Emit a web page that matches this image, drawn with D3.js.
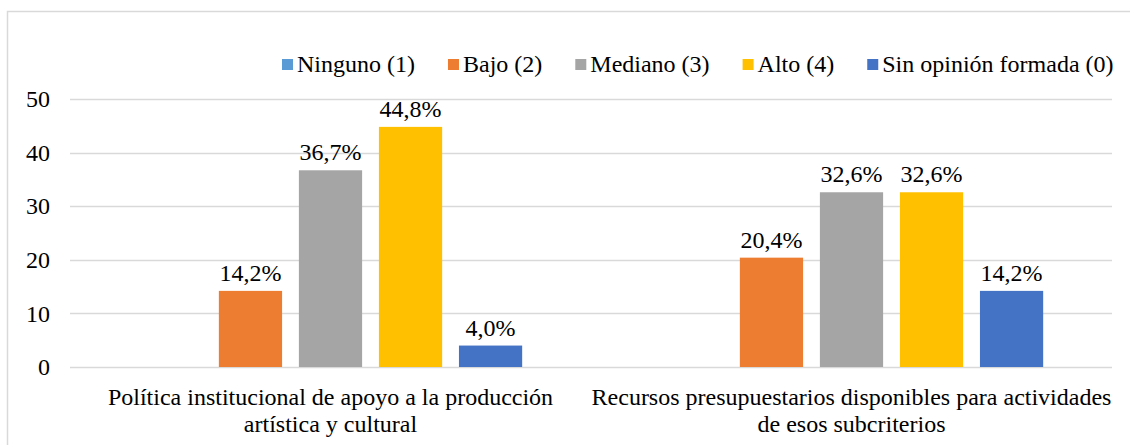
<!DOCTYPE html>
<html>
<head>
<meta charset="utf-8">
<script src="https://cdn.jsdelivr.net/npm/d3@7"></script>
<style>
  body { margin: 0; background: #fff; }
  svg { display: block; }
</style>
</head>
<body>
<div id="chart"></div>
<script>
"use strict";

// categories (line breaks as in the original axis labels)
const categories = [
    "Política institucional de apoyo a la producción\nartística y cultural",
    "Recursos presupuestarios disponibles para actividades\nde esos subcriterios"
];

// series names and colours
const seriesNames = ["Ninguno (1)", "Bajo (2)", "Mediano (3)", "Alto (4)", "Sin opinión formada (0)"];
const seriesColors = ["#5B9BD5", "#ED7D31", "#A5A5A5", "#FFC000", "#4472C4"];

// values per series, one per category
const ninguno = [0, 0];
const bajo = [14.2, 20.4];
const mediano = [36.7, 32.6];
const alto = [44.8, 32.6];
const sinOpinion = [4.0, 14.2];

// y axis ticks
const yTicks = [0, 10, 20, 30, 40, 50];

const seriesValues = [ninguno, bajo, mediano, alto, sinOpinion];

const FONT = "Liberation Serif";
const FS = 24;

const width = 1130, height = 445;
const margin = { top: 99, right: 18, bottom: 78, left: 70 };
const plotW = width - margin.left - margin.right;
const plotH = height - margin.top - margin.bottom;

const svg = d3.select("#chart").append("svg")
    .attr("width", width)
    .attr("height", height);

// chart border
svg.append("rect")
    .attr("x", 7.5).attr("y", 11.5)
    .attr("width", width + 20).attr("height", height + 20)
    .attr("fill", "none")
    .attr("stroke", "#d9d9d9")
    .attr("stroke-width", 1.5);

const g = svg.append("g")
    .attr("transform", "translate(" + margin.left + "," + margin.top + ")");

// scales
const x0 = d3.scaleBand()
    .domain(d3.range(categories.length))
    .range([0, plotW])
    .padding(0);

const x1 = d3.scaleBand()
    .domain(d3.range(seriesNames.length))
    .range([0, x0.bandwidth()])
    .paddingInner(0.21)
    .paddingOuter(0.86);

const y = d3.scaleLinear()
    .domain([0, 50])
    .range([plotH, 0]);

// gridlines
g.append("g")
    .selectAll("line")
    .data(yTicks)
    .enter()
    .append("line")
    .attr("x1", 0)
    .attr("x2", plotW)
    .attr("y1", d => Math.round(y(d)) + 0.5)
    .attr("y2", d => Math.round(y(d)) + 0.5)
    .attr("stroke", "#d9d9d9")
    .attr("stroke-width", 1.5);

// y axis labels
const yAxis = g.append("g")
    .call(d3.axisLeft(y).tickValues(yTicks).tickSize(0).tickPadding(20));
yAxis.select(".domain").remove();
yAxis.selectAll("text")
    .style("font-family", FONT)
    .style("font-size", FS + "px")
    .attr("fill", "#000");

// bars
const rows = [];
categories.forEach((c, ci) => {
    seriesValues.forEach((vals, si) => {
        rows.push({ ci: ci, si: si, value: vals[ci] });
    });
});

g.append("g")
    .selectAll("rect")
    .data(rows)
    .enter()
    .append("rect")
    .attr("x", d => x0(d.ci) + x1(d.si))
    .attr("y", d => y(d.value))
    .attr("width", x1.bandwidth())
    .attr("height", d => y(0) - y(d.value))
    .attr("fill", d => seriesColors[d.si]);

// data labels (zero values carry no label)
const fmt = v => d3.format(".1f")(v).replace(".", ",") + "%";
g.append("g")
    .selectAll("text")
    .data(rows.filter(d => d.value > 0))
    .enter()
    .append("text")
    .attr("x", d => x0(d.ci) + x1(d.si) + x1.bandwidth() / 2)
    .attr("y", d => y(d.value) - 10)
    .attr("text-anchor", "middle")
    .style("font-family", FONT)
    .style("font-size", FS + "px")
    .attr("fill", "#000")
    .text(d => fmt(d.value));

// category labels
const catG = g.append("g")
    .attr("transform", "translate(0," + plotH + ")");
categories.forEach((c, ci) => {
    const t = catG.append("text")
        .attr("text-anchor", "middle")
        .style("font-family", FONT)
        .style("font-size", FS + "px")
        .attr("fill", "#000");
    c.split("\n").forEach((line, li) => {
        t.append("tspan")
            .attr("x", x0(ci) + x0.bandwidth() / 2)
            .attr("y", 38 + li * 27)
            .text(line);
    });
});

// legend
const legend = svg.append("g")
    .attr("transform", "translate(282,0)");
let lx = 0;
seriesNames.forEach((name, i) => {
    const item = legend.append("g").attr("transform", "translate(" + lx + ",0)");
    item.append("rect")
        .attr("x", 0).attr("y", 59)
        .attr("width", 11).attr("height", 11)
        .attr("fill", seriesColors[i]);
    const txt = item.append("text")
        .attr("x", 15).attr("y", 72)
        .style("font-family", FONT)
        .style("font-size", FS + "px")
        .attr("fill", "#000")
        .text(name);
    lx += 15 + txt.node().getComputedTextLength() + 33;
});
</script>
</body>
</html>
